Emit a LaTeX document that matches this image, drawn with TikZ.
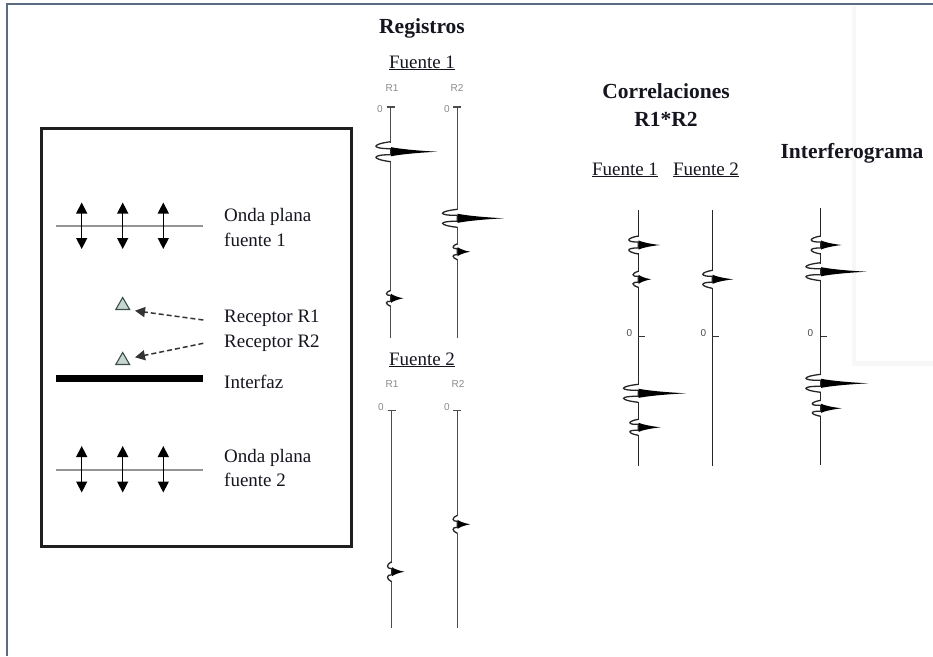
\documentclass[tikz,border=0pt]{standalone}
\usepackage{fontspec}
\setmainfont{Liberation Serif}
\setsansfont{Liberation Sans}
\usetikzlibrary{arrows.meta,shapes.geometric}
\definecolor{ink}{HTML}{15151F}
\definecolor{framec}{HTML}{5B6B82}
\definecolor{lbl}{HTML}{8A8A8A}
\definecolor{trif}{HTML}{C9D6CF}
\definecolor{tric}{HTML}{3A4F4A}
\tikzset{
  txt/.style={font=\fontsize{19}{22}\selectfont, text=ink, inner sep=0pt},
  ttl/.style={font=\fontsize{21.5}{25}\selectfont\bfseries, text=ink, inner sep=0pt},
  small/.style={font=\sffamily\fontsize{10}{12}\selectfont, text=lbl, inner sep=0pt},
  trace/.style={line width=1.3pt, draw=black!85},
  planeline/.style={line width=1.6pt, draw=black!42},
  dblarrow/.style={line width=1.4pt, {Triangle[length=11pt,width=11pt]}-{Triangle[length=11pt,width=11pt]}},
  rec/.style={regular polygon, regular polygon sides=3, minimum size=16pt, draw=tric, fill=trif, line width=1.1pt, inner sep=0pt},
  dasharrow/.style={line width=1.5pt, draw=black!80, dash pattern=on 5pt off 3pt, -{Triangle[length=10pt,width=10pt]}},
}
\newcommand\wvlt[5]{%
\begin{scope}[shift={(#1,#2)}]
\draw[white,line width=3pt] (0,{-#4+0.8}) -- (0,{#4-0.8});
\fill[black] (0.3,-4.6) .. controls ({0.12*#3},-3.4) and ({0.45*#3},-1.3) .. (#3,0) .. controls ({0.45*#3},1.3) and ({0.12*#3},3.4) .. (0.3,4.6) -- cycle;
\draw[trace] (0,-#4) .. controls ({-1.4*#5},{-0.75*#4}) and ({-1.4*#5},{-0.3*#4}) .. (0,-3) -- (0,3) .. controls ({-1.4*#5},{0.3*#4}) and ({-1.4*#5},{0.75*#4}) .. (0,#4);
\end{scope}}
\begin{document}
\begin{tikzpicture}[x=1pt,y=-1pt]
\useasboundingbox (0,0) rectangle (933,656);
\fill[white] (0,0) rectangle (933,656);
% right panel
\fill[black!3] (852,6) rectangle (933,366);
\fill[white] (856,6) rectangle (933,361);
% outer frame
\draw[framec, line width=2pt] (7,656) -- (7,4) -- (933,4);

% ---------- left box ----------
\draw[line width=3pt, draw=black!88] (41.7,128) rectangle (351.7,546.7);
\coordinate (pl1a) at (56,226); \coordinate (pl1b) at (202.7,226);
\draw[planeline] (pl1a) -- (pl1b);
\foreach \x [count=\i] in {81.7,122.7,163.3}{
  \coordinate (a1t\i) at (\x,202.5); \coordinate (a1b\i) at (\x,249);
  \draw[dblarrow] (a1t\i) -- (a1b\i);
}
\node[txt, anchor=base west] (op1) at (224,221.7) {Onda plana};
\node[txt, anchor=base west] (f1) at (224,246) {fuente 1};

\node[rec] (r1) at (122.7,305.5) {};
\node[rec] (r2) at (122.7,360.5) {};
\coordinate (d1s) at (203.3,320); \coordinate (d1e) at (135,310.7);
\coordinate (d2s) at (203.3,343.3); \coordinate (d2e) at (135,357.3);
\draw[dasharrow] (d1s) -- (d1e);
\draw[dasharrow] (d2s) -- (d2e);
\node[txt, anchor=base west] (rr1) at (224,322) {Receptor R1};
\node[txt, anchor=base west] (rr2) at (224,347.3) {Receptor R2};

\coordinate (ia) at (56,378.3); \coordinate (ib) at (202.7,378.3);
\draw[line width=6.5pt, black] (ia) -- (ib);
\node[txt, anchor=base west] (intf) at (224,388.3) {Interfaz};

\coordinate (pl2a) at (56,470); \coordinate (pl2b) at (202.7,470);
\draw[planeline] (pl2a) -- (pl2b);
\foreach \x [count=\i] in {81.7,122.7,163.3}{
  \coordinate (a2t\i) at (\x,446); \coordinate (a2b\i) at (\x,492.5);
  \draw[dblarrow] (a2t\i) -- (a2b\i);
}
\node[txt, anchor=base west] (op2) at (224,462.7) {Onda plana};
\node[txt, anchor=base west] (f2) at (224,486.7) {fuente 2};

% ---------- Registros ----------
\node[ttl, anchor=base] (reg) at (422,33) {Registros};
\node[txt, anchor=base] (rf1) at (422,68) {\underline{Fuente 1}};
\node[small] (l11) at (392,88) {R1};
\node[small] (l12) at (457,88) {R2};
\node[small] (z11) at (380,109) {0};
\node[small] (z12) at (447,109) {0};
\draw[trace, draw=black!70] (390.7,107) -- (390.7,338);
\draw[trace, draw=black!70] (457.3,107) -- (457.3,338);
\draw[line width=1.2pt, black!70] (386.7,107) -- (394.7,107);
\draw[line width=1.2pt, black!70] (453.3,107) -- (461.3,107);
\wvlt{390.7}{151.7}{46.6}{10}{14}
\wvlt{390.7}{298.3}{12.6}{8}{4}
\wvlt{457.3}{218.3}{46.7}{9}{14}
\wvlt{457.3}{251.7}{12.7}{8}{4}

\node[txt, anchor=base] (rf2) at (422,365) {\underline{Fuente 2}};
\node[small] (l21) at (392,384) {R1};
\node[small] (l22) at (458,384) {R2};
\node[small] (z21) at (381,407) {0};
\node[small] (z22) at (447,407) {0};
\draw[trace, draw=black!70] (391.7,410.7) -- (391.7,628.3);
\draw[trace, draw=black!70] (457.3,410.7) -- (457.3,628.3);
\draw[line width=1.2pt, black!70] (387.7,410.7) -- (395.7,410.7);
\draw[line width=1.2pt, black!70] (453.3,410.7) -- (461.3,410.7);
\wvlt{391.7}{571.7}{12.6}{10}{4}
\wvlt{457.3}{524.3}{12.7}{9}{4}

% ---------- Correlaciones ----------
\node[ttl, anchor=base] (cor) at (666,98.3) {Correlaciones};
\node[ttl, anchor=base] (cor2) at (666,126.7) {R1*R2};
\node[txt, anchor=base] (cf1) at (625,175) {\underline{Fuente 1}};
\node[txt, anchor=base] (cf2) at (706,175) {\underline{Fuente 2}};
\draw[trace] (638.3,210) -- (638.3,466);
\draw[trace] (712.3,210) -- (712.3,466);
\node[small, text=black!70] (cz1) at (629.3,333.5) {0};
\node[small, text=black!70] (cz2) at (703.3,333.5) {0};
\draw[line width=1.2pt, black!80] (638.3,336.7) -- (644.5,336.7);
\draw[line width=1.2pt, black!80] (712.3,336.7) -- (718.5,336.7);
\wvlt{638.3}{245}{21.7}{9}{9}
\wvlt{638.3}{279.3}{12.7}{8}{5}
\wvlt{638.3}{393.3}{47.7}{9}{14}
\wvlt{638.3}{427.3}{22.4}{8}{8}
\wvlt{712.3}{279.3}{21}{9}{9}

% ---------- Interferograma ----------
\node[ttl, anchor=base] (itf) at (852,158) {Interferograma};
\draw[trace] (820.7,208.3) -- (820.7,465);
\node[small, text=black!70] (iz) at (810.5,333.5) {0};
\draw[line width=1.2pt, black!80] (820.7,336.7) -- (826.5,336.7);
\wvlt{820.7}{245}{21}{9}{9}
\wvlt{820.7}{271.7}{46}{9}{14}
\wvlt{820.7}{383.3}{47.6}{9}{14}
\wvlt{820.7}{408.3}{21}{8}{8}
\end{tikzpicture}
\end{document}
